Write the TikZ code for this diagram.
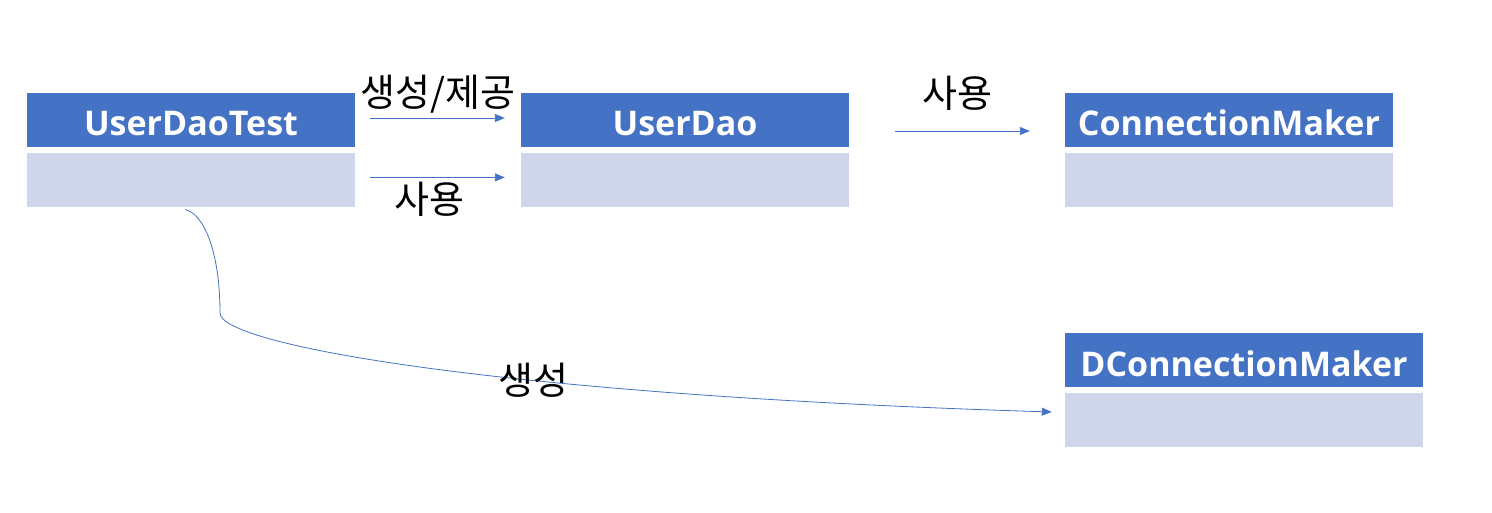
\documentclass[tikz,border=0pt]{standalone}
\usepackage{fontspec}
\usepackage{tikz}
\usetikzlibrary{arrows.meta,positioning}
\newfontfamily\krfont{Noto Sans CJK KR}
\newfontfamily\hdfont{Open Sans}
\definecolor{ublue}{HTML}{4472C4}
\definecolor{ulight}{HTML}{CFD5EA}
\tikzset{
  hd/.style={fill=ublue,text=white,minimum height=54pt,inner sep=0pt,text height=32pt,text depth=0pt,font=\hdfont\bfseries\fontsize{34}{40}\selectfont},
  bd/.style={fill=ulight,minimum height=54pt,inner sep=0pt},
  arr/.style={-{Triangle[length=10pt,width=8pt]},line width=0.9pt,draw=ublue},
  lbl/.style={font=\krfont\fontsize{38}{44}\selectfont,text=black,inner sep=2pt},
}

\begin{document}
\begin{tikzpicture}[x=1pt,y=-1pt]
\useasboundingbox (0,0) rectangle (1492,513);
\node[hd, minimum width=328pt] (test) at (191,120) {UserDaoTest};
\node[bd, minimum width=328pt, below=6pt of test] (testb) {};
\node[hd, minimum width=328pt] (dao) at (685,120) {UserDao};
\node[bd, minimum width=328pt, below=6pt of dao] (daob) {};
\node[hd, minimum width=328pt] (cm) at (1229,120) {ConnectionMaker};
\node[bd, minimum width=328pt, below=6pt of cm] (cmb) {};
\node[hd, minimum width=358pt] (dcm) at (1244,360) {DConnectionMaker};
\node[bd, minimum width=358pt, below=6pt of dcm] (dcmb) {};
% arrows
\draw[arr, shorten <=15pt, shorten >=16pt] ([yshift=2pt]test.east) -- node[lbl, above=2pt] {생성/제공} ([yshift=2pt]dao.west);
\draw[arr, shorten <=15pt, shorten >=16pt] ([yshift=3pt]testb.east) -- node[lbl, below=2pt, xshift=-9pt] {사용} ([yshift=3pt]daob.west);
\draw[arr, shorten <=46pt, shorten >=35pt] ([yshift=-11pt]dao.east) -- node[lbl, above=18pt] {사용} ([yshift=-11pt]cm.west);
\coordinate (bend) at (220,313);
\draw[arr, line width=0.8pt, shorten >=13pt] ([xshift=-6pt,yshift=-2pt]testb.south) .. controls (203,213) and (220,250) .. (bend)
  .. controls (220,345) and (500,395) .. node[lbl, pos=0.61] {생성} ([yshift=8pt]dcmb.west);
\end{tikzpicture}
\end{document}
